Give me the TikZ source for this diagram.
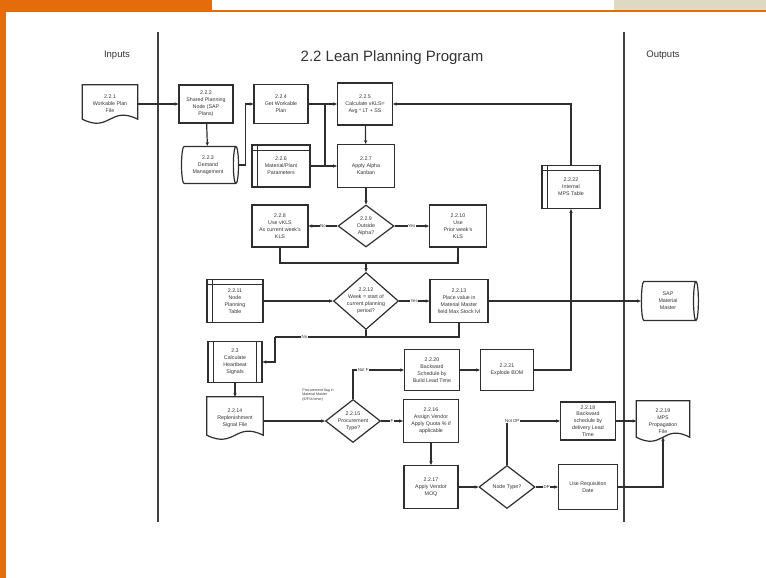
\documentclass[tikz,border=0pt]{standalone}
\usepackage{fontspec}
\setmainfont{Liberation Sans}
\usetikzlibrary{positioning}
\usetikzlibrary{calc}
\usetikzlibrary{shapes.geometric}
\usetikzlibrary{arrows.meta}
\colorlet{line colour}{black!82}
\colorlet{lane colour}{black!75}
\colorlet{text colour}{black!80}
\definecolor{banner colour}{RGB}{228,108,10}
\definecolor{tab colour}{RGB}{221,217,195}
\newcommand{\boxfont}{\fontsize{5.3}{6.9}\selectfont}
\newcommand{\tagfont}{\fontsize{4.4}{5}\selectfont}
\newcommand{\notefont}{\fontsize{3.6}{4.3}\selectfont}
\tikzset{
    % Small arrow heads, as in the chart
    >={Stealth[length=3.8pt, width=3.4pt]},
%
    % Lines first
    flow/.style={draw, color=line colour, line width=1.2pt, ->},
    link/.style={draw, color=line colour, line width=1.2pt},
    lane/.style={draw, color=lane colour, line width=1.5pt},
%
    % All text is centred and small
    every node/.style={align=center, text=text colour, font=\boxfont},
    dims/.style args={#1/#2}{minimum width=#1, minimum height=#2},
    % the cylinder measures its height along its axis
    diskdims/.style args={#1/#2}{minimum height=#1, minimum width=#2},
%
    box/.style={
        draw=line colour, rectangle, line width=1.2pt, inner sep=1pt,
        minimum width=55, minimum height=41},
    store/.style={box},
    process/.style={box},
    docfile/.style={
        rectangle, inner sep=1pt, minimum width=55, minimum height=40},
    disk/.style={
        draw=line colour, cylinder, aspect=0.25, line width=1.2pt,
        inner sep=1pt},
    decision/.style={
        draw=line colour, diamond, aspect=1.3, line width=1.2pt,
        inner sep=-5pt, minimum width=56, minimum height=43},
%
    tag/.style={fill=white, inner sep=0.6pt, font=\tagfont},
    hop/.style={fill=line colour, circle, inner sep=0, minimum size=3pt},
}

\begin{document}
\begin{tikzpicture}[x=1pt, y=-1pt]
    \useasboundingbox (0,0) rectangle (766,578);

    % page furniture
    \fill [banner colour] (0,0) rectangle (212,10);
    \fill [tab colour] (614,0) rectangle (766,10);
    \fill [banner colour] (0,10) rectangle (766,12.5);
    \fill [banner colour] (0,10) rectangle (6,578);

    % swim lanes
    \draw [lane] (158,32) -- (158,522);
    \draw [lane] (624,32) -- (624,522);
    \node [font=\fontsize{9.5}{11}\selectfont] (inputs) at (117,55) {Inputs};
    \node [font=\fontsize{15}{17}\selectfont] (title) at (392,58)
        {2.2 Lean Planning Program};
    \node [font=\fontsize{9.5}{11}\selectfont] (outputs) at (663,55) {Outputs};

    % planning steps
    \node [docfile, dims=55/38] (wpf) at (110,104) {2.2.1\\Workable Plan\\File};
    \node [box, dims=54/38] (spn) at (206,104)
        {2.2.2\\Shared Planning\\Node (SAP\\Plans)};
    \node [disk, diskdims=57/37] (dm) at (208,165) {2.2.3\\Demand\\Management};
    \node [box, dims=54/39] (gwp) at (281,104) {2.2.4\\Get Workable\\Plan};
    \node [box, dims=55/42] (calc) at (365,104)
        {2.2.5\\Calculate vKLS=\\Avg * LT + SS};
    \node [store, dims=58/42] (mpp) at (281,166)
        {2.2.6\\Material/Plant\\Parameters};
    \node [box, dims=57/43] (alpha) at (366,166) {2.2.7\\Apply Alpha\\Kanban};
    \node [store, dims=58/43] (mpst) at (571,187) {2.2.22\\Internal\\MPS Table};

    \node [box, dims=56/42] (usev) at (280,226)
        {2.2.8\\Use vKLS\\As current week's\\KLS};
    \node [decision, dims=56/42] (outa) at (366,226) {2.2.9\\Outside\\Alpha?};
    \node [box, dims=57/42] (usep) at (458,226)
        {2.2.10\\Use\\Prior week's\\KLS};

    \node [store, dims=56/43] (npt) at (235,301) {2.2.11\\Node\\Planning\\Table};
    \node [decision, dims=65/57] (week) at (366,301)
        {2.2.12\\Week = start of\\current planning\\period?};
    \node [box, dims=58/43] (place) at (459,301)
        {2.2.13\\Place value in\\Material Master\\field Max Stock lvl};
    \node [disk, diskdims=57/39] (sap) at (668,301) {SAP\\Material\\Master};

    \node [process, dims=54/41] (hb) at (235,362)
        {2.3\\Calculate\\Heartbeat\\Signals};
    \node [docfile, dims=56/42] (rsf) at (235,418)
        {2.2.14\\Replenishment\\Signal File};
    \node [decision, dims=55/43] (proc) at (353,421)
        {2.2.15\\Procurement\\Type?};
    \node [font=\notefont, align=left] (note) at (318,395)
        {Procurement flag in\\Material Master\\(E/F/X/other)};
    \node [box, dims=55/41] (bsb) at (432,370)
        {2.2.20\\Backward\\Schedule by\\Build Lead Time};
    \node [box, dims=53/41] (bom) at (507,370) {2.2.21\\Explode BOM};
    \node [box, dims=55/43] (vend) at (431,421)
        {2.2.16\\Assign Vendor\\Apply Quota \% if\\applicable};
    \node [box, dims=54/43] (moq) at (431,487) {2.2.17\\Apply Vendor\\MOQ};
    \node [decision, dims=56/43] (ntype) at (507,487) {Node Type?};
    \node [box, dims=59/45] (req) at (588,487) {Use Requisition\\Date};
    \node [box, dims=55/38] (bsd) at (588,421)
        {2.2.18\\Backward\\schedule by\\delivery Lead\\Time};
    \node [docfile, dims=53/40] (mpsf) at (663,421)
        {2.2.19\\MPS\\Propagation\\File};

    % outlines that the plain shapes lack
    \foreach \n in {wpf, rsf, mpsf}
        \draw [link] (\n.north west) -- (\n.north east)
            -- ([yshift=4pt]\n.south east)
            .. controls ($(\n.south)+(0,18pt)$) and ($(\n.south)+(0,-10pt)$)
            .. ([yshift=4pt]\n.south west) -- cycle;
    \foreach \n in {mpp, npt, mpst} {
        \draw [link, line width=0.9pt]
            ([yshift=-6pt]\n.north west) -- ([yshift=-6pt]\n.north east);
        \draw [link, line width=0.9pt]
            ([xshift=6pt]\n.north west) -- ([xshift=6pt]\n.south west);
    }
    \draw [link, line width=0.9pt]
        ([xshift=6pt]hb.north west) -- ([xshift=6pt]hb.south west);
    \draw [link, line width=0.9pt]
        ([xshift=-6pt]hb.north east) -- ([xshift=-6pt]hb.south east);

    % connectors
    \coordinate (feed) at (325,104);
    \coordinate (merge) at (366,263);
    \coordinate (loop) at (275,337);

    \draw [flow] (wpf.east) -- (wpf.east -| spn.west);
    \draw [flow] (spn) -- (dm);
    \draw [flow] (dm.east) -- ++(6,0) |- (gwp.west);
    \draw [flow] (gwp) -- (calc);
    \draw [link] (mpp.east) -| (feed);
    \draw [flow] (mpp) -- (alpha);
    \draw [flow] (calc) -- (alpha);
    \draw [flow] (alpha) -- (outa);
    \draw [flow] (outa) -- node [tag] {No} (usev);
    \draw [flow] (outa) -- node [tag] {Yes} (usep);
    \draw [link] (usev.south) |- (merge) -| (usep.south);
    \draw [flow] (merge) -- (week.north);
    \draw [flow] (npt) -- (week);
    \draw [flow] (week) -- node [tag] {Yes} (place);
    \draw [flow] (place.east) -- (sap.west);
    \node [hop] (cross) at (mpst.south |- place.east) {};
    \draw [link] (week.south) -- (week.south |- loop);
    \draw [link] (place.south) |- node [tag, pos=0.92] {No} (loop);
    \draw [flow] (loop) |- (hb.east);
    \draw [flow] (hb) -- (rsf);
    \draw [flow] (rsf.east |- proc.west) -- (proc.west);
    \draw [flow] (proc.north) |- node [tag, pos=0.6] {Not F} (bsb.west);
    \draw [flow] (proc) -- node [tag] {F} (vend);
    \draw [flow] (bsb) -- (bom);
    \draw [flow] (bom.east) -| (mpst.south);
    \draw [flow] (mpst.north) |- (calc.east);
    \draw [flow] (vend) -- (moq);
    \draw [flow] (moq) -- (ntype);
    \draw [flow] (ntype) -- node [tag] {DP} (req);
    \draw [flow] (ntype.north) |- node [tag, pos=0.55] {Not DP} (bsd.west);
    \draw [flow] (bsd) -- (mpsf);
    \draw [flow] (req.east) -| ([yshift=4pt]mpsf.south);
\end{tikzpicture}
\end{document}
